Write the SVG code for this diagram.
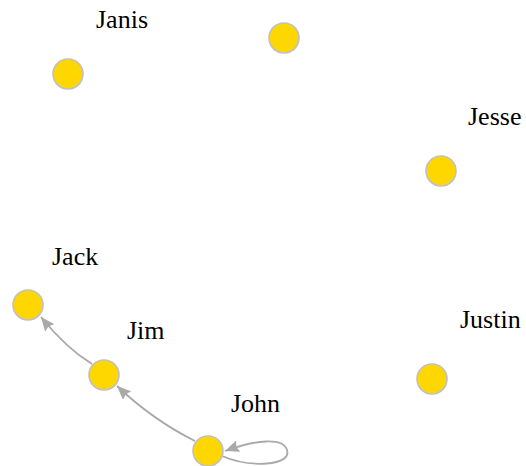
<svg xmlns="http://www.w3.org/2000/svg" width="526" height="466" viewBox="0 0 526 466">
<style>
.node circle{fill:#FFD700;stroke:#C0C0C0;stroke-width:1.6}
.lbl{font-family:"Liberation Serif","Times New Roman",serif;font-size:26px;fill:#000}
.edge{fill:none;stroke:#A9A9A9;stroke-width:1.8}
</style>
<defs>
<marker id="arr" viewBox="0 0 14 12" refX="14" refY="6" markerWidth="14" markerHeight="12" markerUnits="userSpaceOnUse" orient="auto">
<path d="M0,0 L14,6 L0,12 L2,6 Z" fill="#A9A9A9"/>
</marker>
</defs>
<rect width="526" height="466" fill="#fff"/>
<g id="edges">
<path class="edge" d="M92,364 Q66,348 41,317" marker-end="url(#arr)"/>
<path class="edge" d="M195,441 Q153,420 117,386" marker-end="url(#arr)"/>
<path class="edge" d="M222,456 C250,468 292,466 287,450 C283,437 255,440 225,451" marker-end="url(#arr)"/>
</g>
<g id="node-janis" class="node"><circle cx="68" cy="74" r="15"/><text class="lbl" x="96" y="28">Janis</text></g>
<g id="node-top" class="node"><circle cx="284" cy="38" r="15"/></g>
<g id="node-jesse" class="node"><circle cx="441" cy="171" r="15"/><text class="lbl" x="468" y="125">Jesse</text></g>
<g id="node-justin" class="node"><circle cx="432" cy="379" r="15"/><text class="lbl" x="460" y="328">Justin</text></g>
<g id="node-jack" class="node"><circle cx="28" cy="305" r="15"/><text class="lbl" x="52" y="265">Jack</text></g>
<g id="node-jim" class="node"><circle cx="104" cy="375" r="15"/><text class="lbl" x="127" y="339">Jim</text></g>
<g id="node-john" class="node"><circle cx="208" cy="451" r="15"/><text class="lbl" x="231" y="412">John</text></g>
</svg>
